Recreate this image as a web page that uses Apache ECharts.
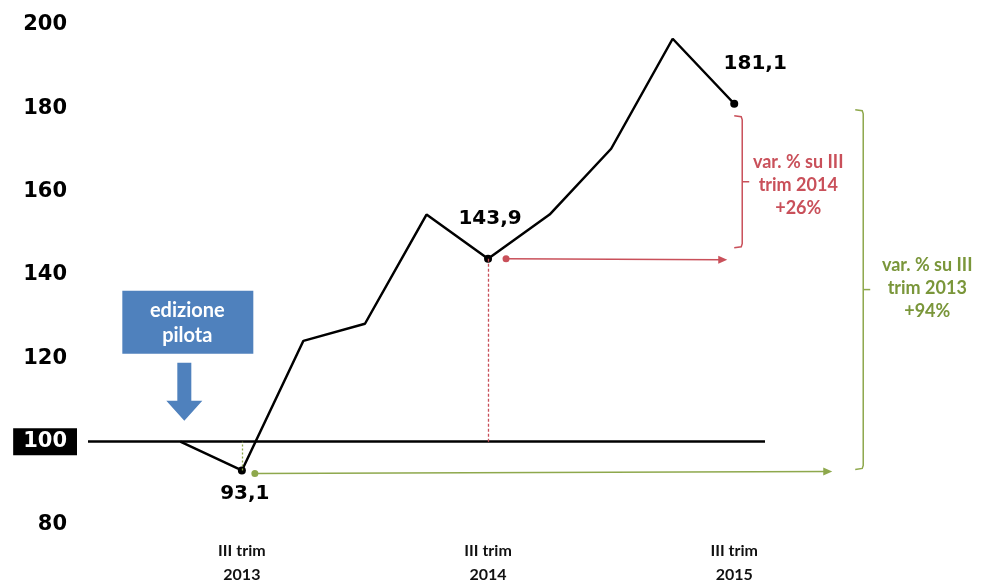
<!DOCTYPE html>
<html>
<head>
<meta charset="utf-8">
<script src="https://cdn.jsdelivr.net/npm/echarts@6/dist/echarts.min.js"></script>
<style>
  html, body { margin: 0; padding: 0; background: #fff; }
  #chart { width: 986px; height: 582px; }
</style>
</head>
<body>
<div id="chart"></div>
<script>
// data
var quarters = ['I trim 2013', 'II trim 2013', 'III trim 2013', 'IV trim 2013', 'I trim 2014', 'II trim 2014',
  'III trim 2014', 'IV trim 2014', 'I trim 2015', 'II trim 2015', 'III trim 2015'];
var indexValues = [null, 100, 93.1, 124.2, 128.3, 154.5, 143.9, 154.5, 170.3, 196.7, 181.1];
var labelledQuarters = ['III trim 2013', 'III trim 2014', 'III trim 2015'];
var baseValue = 100;
var yMin = 80, yMax = 200, yStep = 20;
var noteRed = 'var. % su III\ntrim 2014\n+26%';
var noteGreen = 'var. % su III\ntrim 2013\n+94%';
var pilotText = 'edizione\npilota';

var RED = '#c9505a';
var GREEN = '#8ea84c';
var GREEN_TXT = '#7a963a';
var BLUE = '#4f81bd';
var NUM_FONT = 'DejaVu Sans';
var TXT_FONT = 'Lato';

function valueOf(q) { return indexValues[quarters.indexOf(q)]; }
function fmt(v) { return String(v).replace('.', ','); }

var labelPos = {
  'III trim 2013': { position: 'bottom', distance: 9, offset: [3, 0] },
  'III trim 2014': { position: 'top', distance: 26, offset: [2, 0] },
  'III trim 2015': { position: 'top', distance: 26, offset: [21, 0] }
};

var chartDom = document.getElementById('chart');
var myChart = echarts.init(chartDom);
var option;

option = {
  animation: false,
  grid: { left: 88, right: 221, top: 25, bottom: 57, outerBoundsMode: 'none', containLabel: false },
  xAxis: {
    type: 'category',
    data: quarters,
    boundaryGap: true,
    axisLine: { show: false },
    axisTick: { show: false },
    axisLabel: {
      interval: 0,
      margin: 14,
      color: '#111',
      fontFamily: TXT_FONT,
      fontWeight: 'bold',
      fontSize: 16,
      lineHeight: 24,
      formatter: function (v) {
        if (v.indexOf('III trim') !== 0) return '';
        return 'III trim\n' + v.split(' ')[2];
      }
    }
  },
  yAxis: {
    type: 'value',
    min: yMin,
    max: yMax,
    interval: yStep,
    axisLine: { show: false },
    axisTick: { show: false },
    splitLine: { show: false },
    axisLabel: {
      margin: 11,
      formatter: function (v) {
        return v === baseValue ? '{box|' + v + '}' : '{n|' + v + '}';
      },
      rich: {
        n: { fontFamily: NUM_FONT, fontWeight: 'bold', fontSize: 21, color: '#000', padding: [3, 10] },
        box: { fontFamily: NUM_FONT, fontWeight: 'bold', fontSize: 21, color: '#fff',
          backgroundColor: '#000', padding: [3, 10] }
      }
    }
  },
  series: [
    {
      name: 'indice',
      type: 'line',
      data: indexValues,
      symbol: 'none',
      connectNulls: false,
      lineStyle: { color: '#000', width: 2.5 },
      markLine: {
        silent: true,
        symbol: 'none',
        label: { show: false },
        data: [
          { yAxis: baseValue, lineStyle: { color: '#000', width: 2.5, type: 'solid' } },
          [
            { coord: ['III trim 2014', valueOf('III trim 2014')], lineStyle: { color: RED, width: 1.3, type: [3, 2] } },
            { coord: ['III trim 2014', baseValue] }
          ],
          [
            { coord: ['III trim 2013', valueOf('III trim 2013')], lineStyle: { color: GREEN, width: 1.3, type: [2, 2] } },
            { coord: ['III trim 2013', baseValue] }
          ]
        ]
      }
    },
    {
      name: 'punti',
      type: 'scatter',
      symbol: 'circle',
      symbolSize: 8,
      itemStyle: { color: '#000', opacity: 1 },
      data: labelledQuarters.map(function (q) {
        var p = labelPos[q];
        return {
          value: [q, valueOf(q)],
          label: {
            show: true,
            position: p.position,
            distance: p.distance,
            offset: p.offset,
            formatter: function (d) { return fmt(d.value[1]); },
            fontFamily: NUM_FONT,
            fontWeight: 'bold',
            fontSize: 20,
            color: '#000'
          }
        };
      })
    }
  ]
};

option && myChart.setOption(option);

// annotations placed from the data positions
var p13 = myChart.convertToPixel({ gridIndex: 0 }, ['III trim 2013', valueOf('III trim 2013')]);
var p14 = myChart.convertToPixel({ gridIndex: 0 }, ['III trim 2014', valueOf('III trim 2014')]);
var p15 = myChart.convertToPixel({ gridIndex: 0 }, ['III trim 2015', valueOf('III trim 2015')]);
var pStart = myChart.convertToPixel({ gridIndex: 0 }, ['II trim 2013', baseValue]);

function arrow(x1, y1, x2, y2, color) {
  return [
    { type: 'line', shape: { x1: x1, y1: y1, x2: x2 - 6, y2: y2 }, style: { stroke: color, lineWidth: 1.5 } },
    { type: 'circle', shape: { cx: x1, cy: y1, r: 3.5 }, style: { fill: color } },
    { type: 'polygon', shape: { points: [[x2 - 9, y2 - 4], [x2, y2], [x2 - 9, y2 + 4]] }, style: { fill: color } }
  ];
}

function bracket(x, y1, y2, color) {
  var ym = (y1 + y2) / 2;
  return [
    { type: 'polyline', shape: { points: [[x - 8, y1], [x - 1, y1 + 1], [x, y1 + 4], [x, y2 - 4], [x - 1, y2 - 1], [x - 8, y2]] },
      style: { stroke: color, lineWidth: 1.5, fill: null } },
    { type: 'line', shape: { x1: x, y1: ym, x2: x + 7, y2: ym }, style: { stroke: color, lineWidth: 1.5 } }
  ];
}

function note(x, y, text, color) {
  return {
    type: 'text', x: x, y: y,
    style: { text: text, align: 'center', verticalAlign: 'middle', fill: color,
      fontFamily: TXT_FONT, fontWeight: 'bold', fontSize: 18, lineHeight: 23 }
  };
}

var bx = pStart[0];
var graphics = []
  .concat(arrow(p14[0] + 18, p14[1], p15[0] - 7, p14[1] + 1, RED))
  .concat(arrow(p13[0] + 13, p13[1] + 3, p15[0] + 98, p13[1] + 1, GREEN))
  .concat(bracket(p15[0] + 8, p15[1] + 12, p14[1] - 11, RED))
  .concat(bracket(p15[0] + 129, p15[1] + 6, p13[1] - 1, GREEN))
  .concat([
    note(p15[0] + 64, (p15[1] + p14[1]) / 2 + 4, noteRed, RED),
    note(p15[0] + 193, (p15[1] + p13[1]) / 2 + 1, noteGreen, GREEN_TXT),
    { type: 'rect', shape: { x: bx - 58, y: pStart[1] - 151, width: 131, height: 63 }, style: { fill: BLUE } },
    { type: 'text', x: bx + 7, y: pStart[1] - 119,
      style: { text: pilotText, align: 'center', verticalAlign: 'middle', fill: '#fff',
        fontFamily: TXT_FONT, fontWeight: 'bold', fontSize: 20, lineHeight: 25 } },
    { type: 'polygon',
      shape: { points: [[bx - 3, pStart[1] - 79], [bx + 11, pStart[1] - 79], [bx + 11, pStart[1] - 41],
        [bx + 22, pStart[1] - 41], [bx + 4, pStart[1] - 21], [bx - 14, pStart[1] - 41], [bx - 3, pStart[1] - 41]] },
      style: { fill: BLUE } }
  ]);

myChart.setOption({ graphic: graphics });
</script>
</body>
</html>
